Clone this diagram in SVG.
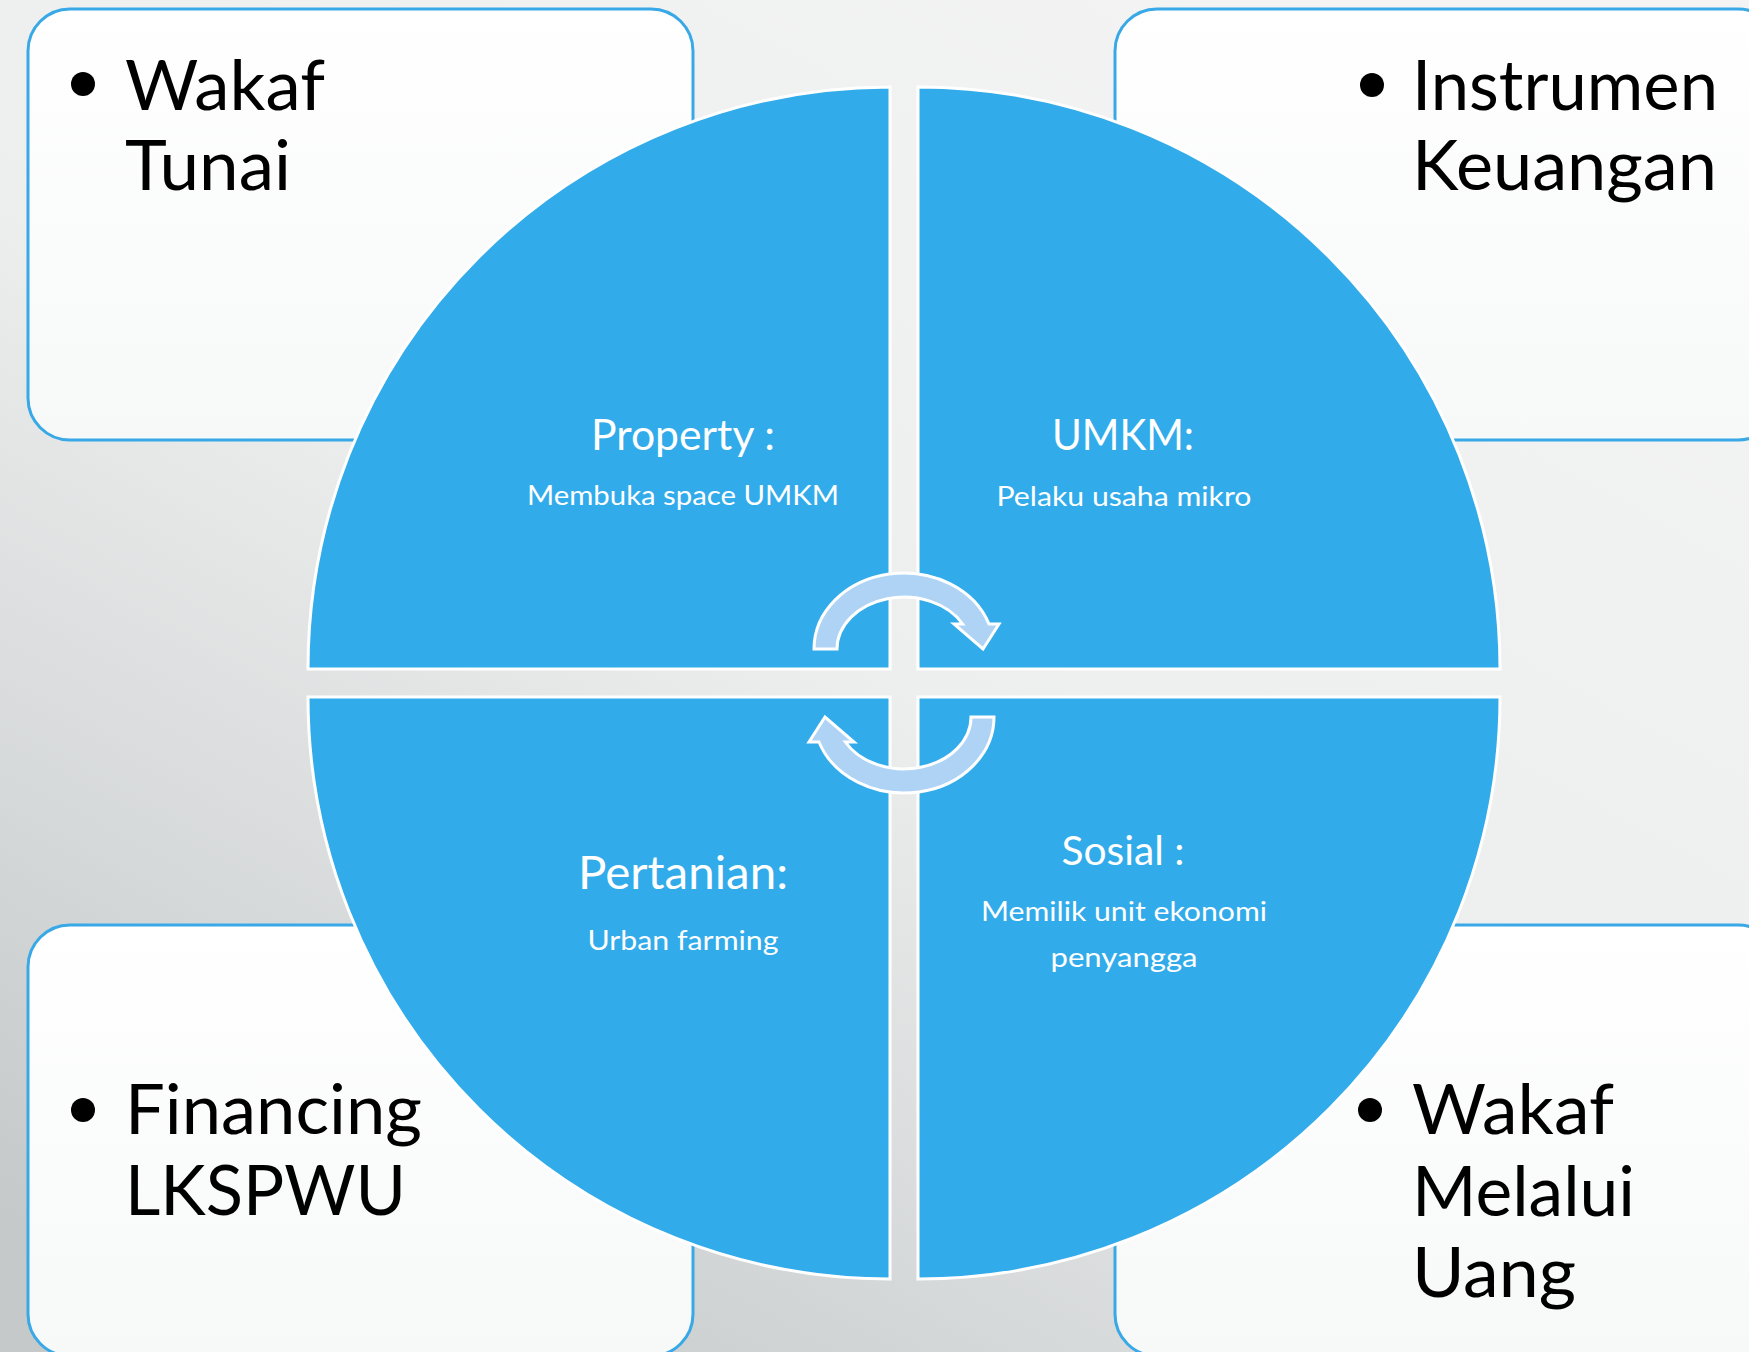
<svg xmlns="http://www.w3.org/2000/svg" width="1749" height="1352" viewBox="0 0 1749 1352">
  <defs>
    <linearGradient id="bg" x1="0.85" y1="0" x2="0.15" y2="1">
      <stop offset="0" stop-color="#F4F4F4"/>
      <stop offset="0.5" stop-color="#EDEEEE"/>
      <stop offset="1" stop-color="#C5C9CA"/>
    </linearGradient>
    <linearGradient id="boxfill" x1="0" y1="0" x2="0" y2="1">
      <stop offset="0" stop-color="#FFFFFF"/>
      <stop offset="1" stop-color="#F7F8F8"/>
    </linearGradient>
    <style>
      .box { fill: url(#boxfill); stroke: #38A9E6; stroke-width: 3; }
      .quad { fill: #32ABEA; stroke: #FFFFFF; stroke-width: 3; }
      .arrow { fill: #AED3F4; stroke: #FFFFFF; stroke-width: 3; stroke-linejoin: miter; }
      .big { font-family: Lato, "Open Sans", "Liberation Sans", sans-serif; font-size: 70px; fill: #000000; }
      .bullet { fill: #000000; }
      .title { font-family: Lato, "Open Sans", "Liberation Sans", sans-serif; fill: #FFFFFF; text-anchor: middle; }
      .sub { font-family: Lato, "Open Sans", "Liberation Sans", sans-serif; font-size: 27px; fill: #FFFFFF; text-anchor: middle; }
    </style>
  </defs>

  <rect x="0" y="0" width="1749" height="1352" fill="url(#bg)"/>

  <g id="box-wakaf-tunai">
    <rect class="box" x="28" y="9" width="665" height="431" rx="42" ry="42"/>
    <circle class="bullet" cx="83" cy="84" r="12"/>
    <text class="big" x="125" y="110" textLength="200" lengthAdjust="spacingAndGlyphs">Wakaf</text>
    <text class="big" x="125" y="190" textLength="166" lengthAdjust="spacingAndGlyphs">Tunai</text>
  </g>

  <g id="box-instrumen-keuangan">
    <rect class="box" x="1115" y="9" width="665" height="431" rx="42" ry="42"/>
    <circle class="bullet" cx="1372" cy="85" r="12"/>
    <text class="big" x="1412" y="110" textLength="306" lengthAdjust="spacingAndGlyphs">Instrumen</text>
    <text class="big" x="1412" y="190" textLength="305" lengthAdjust="spacingAndGlyphs">Keuangan</text>
  </g>

  <g id="box-financing-lkspwu">
    <rect class="box" x="28" y="925" width="665" height="431" rx="42" ry="42"/>
    <circle class="bullet" cx="83" cy="1110" r="12"/>
    <text class="big" x="125" y="1134" textLength="297" lengthAdjust="spacingAndGlyphs">Financing</text>
    <text class="big" x="125" y="1215" textLength="281" lengthAdjust="spacingAndGlyphs">LKSPWU</text>
  </g>

  <g id="box-wakaf-melalui-uang">
    <rect class="box" x="1115" y="925" width="665" height="431" rx="42" ry="42"/>
    <circle class="bullet" cx="1370" cy="1110" r="12"/>
    <text class="big" x="1412" y="1134" textLength="202" lengthAdjust="spacingAndGlyphs">Wakaf</text>
    <text class="big" x="1412" y="1216" textLength="223" lengthAdjust="spacingAndGlyphs">Melalui</text>
    <text class="big" x="1412" y="1297" textLength="164" lengthAdjust="spacingAndGlyphs">Uang</text>
  </g>

  <g id="quad-property">
    <path class="quad" d="M890,669 L308,669 A582,582 0 0 1 890,87 Z"/>
    <text class="title" x="683" y="450" font-size="43" textLength="184" lengthAdjust="spacingAndGlyphs">Property :</text>
    <text class="sub" x="683" y="505" textLength="312" lengthAdjust="spacingAndGlyphs">Membuka space UMKM</text>
  </g>

  <g id="quad-umkm">
    <path class="quad" d="M918,669 L918,87 A582,582 0 0 1 1500,669 Z"/>
    <text class="title" x="1123" y="450" font-size="42" textLength="142" lengthAdjust="spacingAndGlyphs">UMKM:</text>
    <text class="sub" x="1124" y="506" textLength="255" lengthAdjust="spacingAndGlyphs">Pelaku usaha mikro</text>
  </g>

  <g id="quad-pertanian">
    <path class="quad" d="M890,697 L890,1279 A582,582 0 0 1 308,697 Z"/>
    <text class="title" x="683" y="889" font-size="47" textLength="210" lengthAdjust="spacingAndGlyphs">Pertanian:</text>
    <text class="sub" x="683" y="950" textLength="191" lengthAdjust="spacingAndGlyphs">Urban farming</text>
  </g>

  <g id="quad-sosial">
    <path class="quad" d="M918,697 L1500,697 A582,582 0 0 1 918,1279 Z"/>
    <text class="title" x="1123" y="865" font-size="40" textLength="123" lengthAdjust="spacingAndGlyphs">Sosial :</text>
    <text class="sub" x="1124" y="921" textLength="286" lengthAdjust="spacingAndGlyphs">Memilik unit ekonomi</text>
    <text class="sub" x="1124" y="967" textLength="147" lengthAdjust="spacingAndGlyphs">penyangga</text>
  </g>

  <g id="connectors">
    <path class="arrow" d="M814,649 A90,76 0 0 1 989,624 L999,624 L983,649 L954,624 L962.7,624 A67,52 0 0 0 837,649 Z"/>
    <path class="arrow" transform="rotate(180 904 683)" d="M814,649 A90,76 0 0 1 989,624 L999,624 L983,649 L954,624 L962.7,624 A67,52 0 0 0 837,649 Z"/>
  </g>
</svg>
